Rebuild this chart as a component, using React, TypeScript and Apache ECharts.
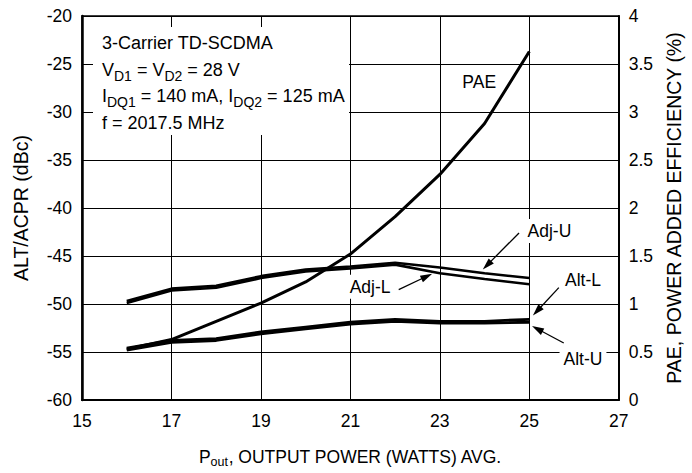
import React, { useEffect, useRef } from "react";
import * as echarts from "echarts";

// Output power (W avg.)
const powerW = [16, 17, 18, 19, 20, 21, 22, 23, 24, 25];
// ACPR / ALT (dBc)
const adjU = [-49.7, -48.4, -48.1, -47.1, -46.4, -46.1, -45.7, -46.2, -46.8, -47.3];
const adjL = [-49.9, -48.6, -48.3, -47.3, -46.6, -46.3, -45.9, -46.8, -47.4, -47.95];
const altL = [-54.6, -53.8, -53.6, -52.9, -52.4, -51.9, -51.6, -51.8, -51.8, -51.6];
const altU = [-54.8, -54.0, -53.8, -53.1, -52.6, -52.1, -51.8, -52.0, -52.0, -51.9];
// Power added efficiency (%)
const pae = [0.53, 0.63, 0.82, 1.01, 1.23, 1.52, 1.91, 2.35, 2.88, 3.63];

// Curve labels, anchored in data units (x in W, y in dBc)
const curveLabels = [
  { text: "PAE", at: [23.88, -26.9], bg: false },
  { text: "Adj-U", at: [25.45, -42.4], bg: true },
  { text: "Adj-L", at: [21.44, -48.2], bg: true },
  { text: "Alt-L", at: [26.2, -47.5], bg: true },
  { text: "Alt-U", at: [26.2, -55.7], bg: true },
];
const arrows = [
  { from: [24.77, -42.6], to: [23.96, -46.4] },
  { from: [22.08, -48.5], to: [22.83, -46.85] },
  { from: [25.66, -48.3], to: [25.08, -51.2] },
  { from: [25.77, -54.06], to: [25.06, -52.3] },
];

const infoLines = [
  "{n|3-Carrier TD-SCDMA}",
  "{n|V}{s|D1}{n| = V}{s|D2}{n| = 28 V}",
  "{n|I}{s|DQ1}{n| = 140 mA, I}{s|DQ2}{n| = 125 mA}",
  "{n|f = 2017.5 MHz}",
];

const FONT = '"Liberation Sans", Arial, Helvetica, sans-serif';

export default function App() {
  const ref = useRef<HTMLDivElement>(null);

  useEffect(() => {
    if (!ref.current) return;
    const chart = echarts.init(ref.current, undefined, { renderer: "svg" });

    const line = (name: string, ys: number[], yAxisIndex = 0, width = 2.8) => ({
      name,
      type: "line",
      yAxisIndex,
      data: powerW.map((x, i) => [x, ys[i]]),
      showSymbol: false,
      symbol: "none",
      smooth: false,
      lineStyle: { color: "#000", width },
      z: 5,
    });

    chart.setOption({
      animation: false,
      backgroundColor: "#fff",
      grid: {
        left: 82,
        right: 66,
        top: 16,
        bottom: 73,
        show: true,
        borderColor: "#000",
        borderWidth: 1.5,
        backgroundColor: "transparent",
      },
      xAxis: {
        type: "value",
        min: 15,
        max: 27,
        interval: 2,
        axisLine: { show: true, lineStyle: { color: "#000", width: 2 } },
        axisTick: { show: false },
        splitLine: { show: true, lineStyle: { color: "#000", width: 1 } },
        axisLabel: { color: "#000", fontSize: 17.5, fontFamily: FONT, margin: 12 },
        name: "{n|P}{s|out}{n|, OUTPUT POWER (WATTS) AVG.}",
        nameLocation: "middle",
        nameGap: 46,
        nameTextStyle: {
          rich: {
            n: { fontSize: 17.5, fontFamily: FONT, color: "#000", lineHeight: 22 },
            s: { fontSize: 12.5, fontFamily: FONT, color: "#000", lineHeight: 12, verticalAlign: "bottom" },
          },
        },
      },
      yAxis: [
        {
          type: "value",
          position: "left",
          min: -60,
          max: -20,
          interval: 5,
          axisLine: { show: true, lineStyle: { color: "#000", width: 2.5 } },
          axisTick: { show: false },
          splitLine: { show: true, lineStyle: { color: "#000", width: 1 } },
          axisLabel: { color: "#000", fontSize: 17.5, fontFamily: FONT, margin: 10 },
          name: "ALT/ACPR (dBc)",
          nameLocation: "middle",
          nameGap: 51,
          nameTextStyle: { color: "#000", fontSize: 19.5, fontFamily: FONT },
        },
        {
          type: "value",
          position: "right",
          min: 0,
          max: 4,
          interval: 0.5,
          axisLine: { show: true, lineStyle: { color: "#000", width: 2 } },
          axisTick: { show: false },
          splitLine: { show: false },
          axisLabel: { color: "#000", fontSize: 17.5, fontFamily: FONT, margin: 10 },
          name: "PAE, POWER ADDED EFFICIENCY (%)",
          nameLocation: "middle",
          nameGap: 41,
          nameTextStyle: { color: "#000", fontSize: 19.5, fontFamily: FONT },
        },
      ],
      series: [
        line("Adj-U", adjU, 0, 2.6),
        line("Adj-L", adjL, 0, 2.6),
        line("Alt-L", altL),
        line("Alt-U", altU),
        line("PAE", pae, 1, 3),
      ],
    });

    const px = (p: number[]) =>
      chart.convertToPixel({ xAxisIndex: 0, yAxisIndex: 0 }, p) as number[];

    const graphics: any[] = [];

    // info box (white background interrupting gridlines)
    graphics.push({
      type: "rect",
      shape: { x: 93, y: 27, width: 256, height: 108 },
      style: { fill: "#fff" },
      z: 50,
    });
    infoLines.forEach((t, i) => {
      graphics.push({
        type: "text",
        x: 102,
        y: 43 + i * 26.5,
        style: {
          text: t,
          align: "left",
          verticalAlign: "middle",
          textAlign: "left",
          textVerticalAlign: "middle",
          rich: {
            n: { fontSize: 18, fontFamily: FONT, fill: "#000", lineHeight: 26 },
            s: { fontSize: 14, fontFamily: FONT, fill: "#000", lineHeight: 15, verticalAlign: "bottom" },
          },
        },
        z: 60,
      });
    });

    curveLabels.forEach((l) => {
      const [x, y] = px(l.at);
      const style: any = {
        text: l.text,
        fontSize: 17.5,
        fontFamily: FONT,
        fill: "#000",
        align: "center",
        verticalAlign: "middle",
        textAlign: "center",
        textVerticalAlign: "middle",
      };
      if (l.bg) {
        style.backgroundColor = "#fff";
        style.padding = [3, 4];
      }
      graphics.push({ type: "text", x, y, style, z: 100 });
    });

    arrows.forEach((a) => {
      const [x1, y1] = px(a.from);
      const [x2, y2] = px(a.to);
      const dx = x2 - x1;
      const dy = y2 - y1;
      const len = Math.hypot(dx, dy);
      const ux = dx / len;
      const uy = dy / len;
      const hl = 12;
      const hw = 3.6;
      const bx = x2 - ux * hl;
      const by = y2 - uy * hl;
      graphics.push({
        type: "line",
        shape: { x1, y1, x2: bx + ux * 2, y2: by + uy * 2 },
        style: { stroke: "#000", lineWidth: 1.3 },
        z: 110,
      });
      graphics.push({
        type: "polygon",
        shape: {
          points: [
            [x2, y2],
            [bx - uy * hw, by + ux * hw],
            [bx + uy * hw, by - ux * hw],
          ],
        },
        style: { fill: "#000" },
        z: 110,
      });
    });

    chart.setOption({ graphic: graphics });

    return () => chart.dispose();
  }, []);

  return (
    <div
      ref={ref}
      style={{ position: "fixed", left: 0, top: 0, width: 692, height: 473, background: "#fff" }}
    />
  );
}
